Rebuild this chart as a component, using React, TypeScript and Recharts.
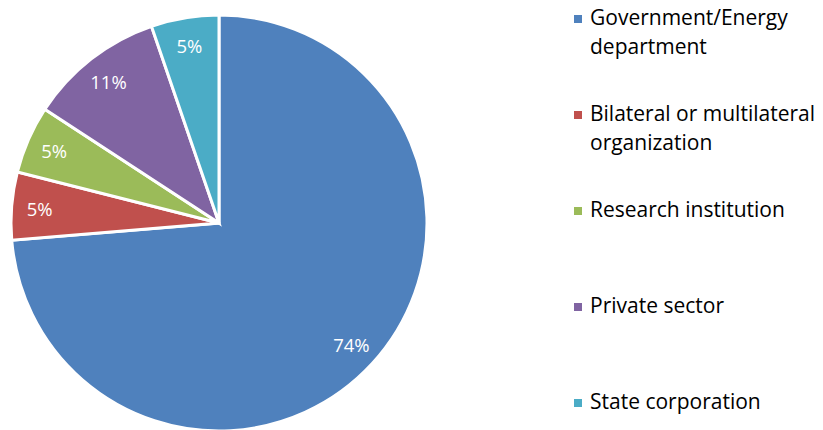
import { PieChart, Pie, Cell, Legend } from "recharts";

const categories = [
  "Government/Energy department",
  "Bilateral or multilateral organization",
  "Research institution",
  "Private sector",
  "State corporation",
];
const legendLines = [
  ["Government/Energy", "department"],
  ["Bilateral or multilateral", "organization"],
  ["Research institution"],
  ["Private sector"],
  ["State corporation"],
];
const counts = [14, 1, 1, 2, 1];
const colors = ["#4F81BD", "#C0504D", "#9BBB59", "#8064A2", "#4BACC6"];
const legendTops = [3, 99, 195, 291, 387];

const data = categories.map((name, i) => ({ name, value: counts[i] }));

const FONT = "'Open Sans', Lato, sans-serif";
const RAD = Math.PI / 180;

function renderLabel(props: any) {
  const { cx, cy, midAngle, outerRadius, percent } = props;
  const r = outerRadius * 0.865;
  const x = cx + r * Math.cos(-midAngle * RAD);
  const y = cy + r * Math.sin(-midAngle * RAD);
  return (
    <text
      x={x}
      y={y}
      fill="#fff"
      textAnchor="middle"
      dominantBaseline="central"
      fontSize={18.5}
      fontFamily={FONT}
    >
      {Math.round(percent * 100)}%
    </text>
  );
}

function LegendBox() {
  return (
    <div style={{ position: "relative", width: 250, height: 430, fontFamily: FONT }}>
      {legendLines.map((lines, i) => (
        <div
          key={i}
          style={{ position: "absolute", top: legendTops[i], left: 0, display: "flex" }}
        >
          <span
            style={{
              width: 8,
              height: 8,
              background: colors[i],
              marginTop: 12,
              marginRight: 8,
              flexShrink: 0,
            }}
          />
          <div style={{ fontSize: 21, lineHeight: "29px", color: "#000" }}>
            {lines.map((l, j) => (
              <div key={j} style={{ whiteSpace: "nowrap" }}>{l}</div>
            ))}
          </div>
        </div>
      ))}
    </div>
  );
}

export default function App() {
  return (
    <div style={{ position: "fixed", left: 0, top: 0, background: "#fff" }}>
      <PieChart width={823} height={430} margin={{ top: 0, right: 0, bottom: 0, left: 0 }}>
        <Pie
          data={data}
          dataKey="value"
          nameKey="name"
          cx={219}
          cy={223}
          outerRadius={208}
          startAngle={90}
          endAngle={-270}
          stroke="#fff"
          strokeWidth={3}
          label={renderLabel}
          labelLine={false}
          isAnimationActive={false}
        >
          {data.map((d, i) => (
            <Cell key={d.name} fill={colors[i]} />
          ))}
        </Pie>
        <Legend
          content={() => <LegendBox />}
          wrapperStyle={{ position: "absolute", left: 574, top: 0, width: 250, height: 430 }}
        />
      </PieChart>
    </div>
  );
}
